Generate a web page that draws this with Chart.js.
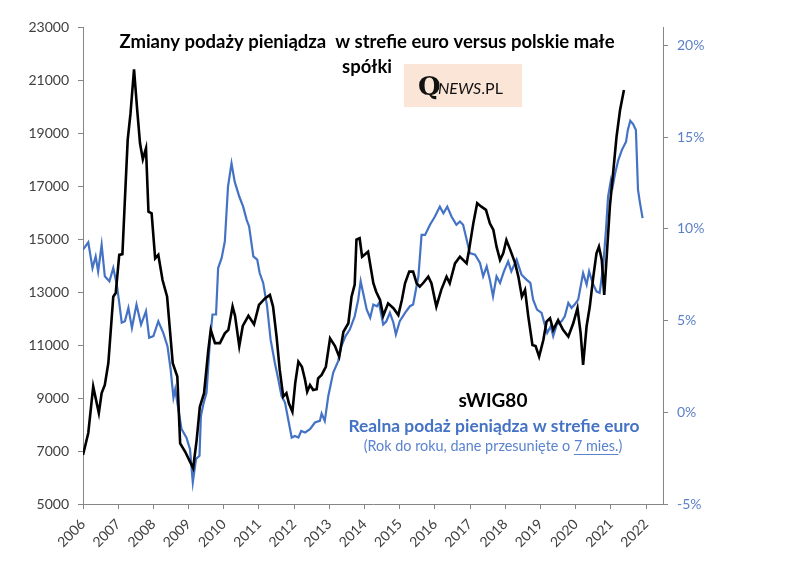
<!DOCTYPE html>
<html>
<head>
<meta charset="utf-8">
<script src="https://cdn.jsdelivr.net/npm/chart.js@4/dist/chart.umd.min.js"></script>
<style>
  html, body { margin: 0; padding: 0; background: #fff; }
</style>
</head>
<body>
<canvas id="myChart" width="800" height="571"></canvas>
<script>
// etykiety osi X (lata)
const yearTicks = [2006, 2007, 2008, 2009, 2010, 2011, 2012, 2013, 2014, 2015, 2016, 2017, 2018, 2019, 2020, 2021, 2022];

// sWIG80 (lewa oś), x = rok dziesiętny
const swigYears = [2006.00, 2006.15, 2006.29, 2006.45, 2006.53, 2006.62, 2006.72, 2006.86, 2006.93, 2007.03,
  2007.12, 2007.19, 2007.27, 2007.35, 2007.45, 2007.54, 2007.62, 2007.70, 2007.79, 2007.86,
  2007.95, 2008.05, 2008.14, 2008.26, 2008.39, 2008.55, 2008.68, 2008.76, 2008.90, 2009.04,
  2009.13, 2009.23, 2009.32, 2009.44, 2009.56, 2009.63, 2009.75, 2009.89, 2010.03, 2010.13,
  2010.25, 2010.32, 2010.44, 2010.54, 2010.70, 2010.86, 2011.00, 2011.17, 2011.31, 2011.40,
  2011.50, 2011.59, 2011.69, 2011.78, 2011.85, 2011.95, 2012.03, 2012.12, 2012.22, 2012.31,
  2012.37, 2012.45, 2012.54, 2012.64, 2012.68, 2012.78, 2012.90, 2013.02, 2013.16, 2013.28,
  2013.40, 2013.54, 2013.63, 2013.72, 2013.77, 2013.86, 2013.93, 2014.10, 2014.25, 2014.33,
  2014.44, 2014.53, 2014.67, 2014.82, 2014.96, 2015.06, 2015.15, 2015.27, 2015.38, 2015.48,
  2015.57, 2015.66, 2015.81, 2015.90, 2016.04, 2016.18, 2016.33, 2016.42, 2016.57, 2016.71,
  2016.80, 2016.90, 2016.97, 2017.09, 2017.20, 2017.32, 2017.45, 2017.56, 2017.66, 2017.75,
  2017.85, 2017.94, 2018.03, 2018.14, 2018.28, 2018.37, 2018.47, 2018.56, 2018.65, 2018.77,
  2018.86, 2018.96, 2019.08, 2019.17, 2019.27, 2019.36, 2019.50, 2019.64, 2019.79, 2019.93,
  2020.05, 2020.14, 2020.21, 2020.31, 2020.40, 2020.50, 2020.59, 2020.66, 2020.74, 2020.81,
  2020.88, 2020.97, 2021.07, 2021.16, 2021.26, 2021.37];
const swigValues = [6850, 7680, 9430, 8430, 9190, 9490, 10320, 12820, 12960, 14400,
  14430, 16470, 18740, 19740, 21400, 19870, 18610, 18010, 18420, 16030,
  15970, 14270, 14400, 13450, 12820, 10310, 9810, 7290, 6980, 6600,
  6350, 7420, 8670, 9180, 10810, 11570, 11070, 11070, 11440, 11570,
  12450, 12100, 10960, 11720, 12100, 11780, 12510, 12760, 12890, 12450,
  11320, 10060, 9050, 9180, 8800, 8480, 9560, 10370, 10180, 9680,
  9240, 9490, 9300, 9330, 9740, 9870, 10180, 11250, 10960, 10560,
  11500, 11820, 12820, 13280, 14980, 15030, 14330, 14520, 13330, 13010,
  12700, 12100, 12570, 12390, 12130, 12700, 13330, 13770, 13770, 13330,
  13200, 13330, 13580, 13330, 12450, 13080, 13580, 13330, 14080, 14330,
  14210, 14080, 14590, 15590, 16350, 16220, 16100, 15590, 15340, 14710,
  14210, 14460, 14960, 14590, 14080, 13580, 12820, 13080, 12100, 11000,
  10960, 10560, 11190, 11880, 12010, 11570, 11940, 11570, 11320, 11820,
  12390, 11440, 10250, 11720, 12450, 13580, 14460, 14710, 14210, 12890,
  14330, 16220, 17600, 18860, 19870, 20620];

// Realna podaż pieniądza w strefie euro, r/r w % (prawa oś), przesunięta o 7 mies.
const moneyYears = [2006.00, 2006.15, 2006.27, 2006.36, 2006.43, 2006.53, 2006.62, 2006.75, 2006.86, 2006.96,
  2007.03, 2007.10, 2007.19, 2007.29, 2007.39, 2007.52, 2007.65, 2007.79, 2007.88, 2008.00,
  2008.14, 2008.28, 2008.40, 2008.49, 2008.57, 2008.62, 2008.71, 2008.80, 2008.94, 2009.04,
  2009.12, 2009.21, 2009.31, 2009.35, 2009.42, 2009.51, 2009.61, 2009.68, 2009.78, 2009.84,
  2009.94, 2010.03, 2010.12, 2010.22, 2010.31, 2010.44, 2010.55, 2010.65, 2010.72, 2010.84,
  2010.95, 2011.02, 2011.12, 2011.23, 2011.33, 2011.45, 2011.55, 2011.64, 2011.74, 2011.83,
  2011.93, 2012.02, 2012.12, 2012.20, 2012.31, 2012.45, 2012.59, 2012.73, 2012.78, 2012.87,
  2012.97, 2013.11, 2013.25, 2013.34, 2013.46, 2013.58, 2013.72, 2013.82, 2013.89, 2013.98,
  2014.06, 2014.16, 2014.25, 2014.35, 2014.41, 2014.53, 2014.62, 2014.72, 2014.82, 2014.89,
  2015.00, 2015.15, 2015.29, 2015.38, 2015.46, 2015.53, 2015.62, 2015.72, 2015.86, 2016.00,
  2016.14, 2016.24, 2016.35, 2016.47, 2016.61, 2016.71, 2016.80, 2016.88, 2016.99, 2017.14,
  2017.28, 2017.37, 2017.47, 2017.56, 2017.65, 2017.75, 2017.85, 2017.96, 2018.08, 2018.17,
  2018.32, 2018.46, 2018.60, 2018.71, 2018.79, 2018.90, 2019.03, 2019.12, 2019.19, 2019.29,
  2019.36, 2019.46, 2019.60, 2019.69, 2019.79, 2019.88, 2019.97, 2020.07, 2020.21, 2020.31,
  2020.38, 2020.48, 2020.59, 2020.68, 2020.78, 2020.86, 2020.92, 2021.00, 2021.05, 2021.12,
  2021.21, 2021.31, 2021.43, 2021.48, 2021.55, 2021.63, 2021.71, 2021.77, 2021.82, 2021.90];
const moneyValues = [8.86, 9.26, 7.86, 8.50, 7.68, 9.13, 7.41, 7.14, 7.86, 6.96,
  5.96, 4.88, 4.96, 5.69, 4.60, 5.87, 4.78, 5.51, 4.06, 4.15,
  4.96, 4.33, 3.60, 2.34, 0.80, 1.25, 0.16, -0.92, -1.38, -2.01,
  -3.82, -2.55, -2.37, -0.20, 0.44, 1.07, 3.97, 5.33, 5.33, 7.86,
  8.41, 9.31, 12.30, 13.57, 12.57, 11.76, 11.21, 10.49, 10.13, 8.50,
  8.32, 7.59, 7.05, 5.78, 3.97, 2.70, 1.79, 0.89, 0.53, -0.38,
  -1.38, -1.29, -1.38, -1.02, -1.10, -0.92, -0.56, -0.47, -0.07, -0.47,
  0.89, 2.16, 2.79, 3.60, 4.15, 4.51, 5.23, 6.14, 7.14, 6.32,
  5.60, 5.15, 5.87, 5.78, 5.96, 4.78, 4.96, 5.42, 4.88, 4.24,
  4.96, 5.42, 5.78, 5.87, 6.69, 7.41, 9.67, 9.67, 10.22, 10.67,
  11.21, 10.85, 11.21, 10.67, 10.22, 10.40, 10.22, 9.58, 8.68, 8.59,
  8.14, 7.41, 7.95, 7.23, 6.32, 7.41, 7.05, 7.68, 8.22, 7.68,
  8.32, 7.50, 7.23, 7.05, 6.14, 5.60, 5.42, 4.78, 4.33, 4.69,
  4.15, 4.78, 4.96, 5.23, 5.96, 5.69, 5.87, 6.14, 7.59, 6.96,
  7.68, 7.05, 6.59, 6.51, 7.95, 9.95, 11.76, 12.66, 12.30, 13.03,
  13.75, 14.29, 14.75, 15.38, 15.89, 15.71, 15.38, 12.12, 11.48, 10.58];

const FONT = 'Lato, "Open Sans", sans-serif';
const BLUE = '#4472c4';
const AXIS = '#868686';

function points(xs, ys) {
  return xs.map((x, i) => ({x: x, y: ys[i]}));
}

const textPlugin = {
  id: 'texts',
  afterDatasetsDraw(chart) {
    const ctx = chart.ctx;
    ctx.save();
    ctx.textAlign = 'center';
    ctx.textBaseline = 'middle';

    // tytuł
    ctx.fillStyle = '#000';
    ctx.font = 'bold 18.5px ' + FONT;
    ctx.fillText('Zmiany podaży pieniądza  w strefie euro versus polskie małe', 367, 42);
    ctx.fillText('spółki', 367, 67);

    // logo
    ctx.fillStyle = '#fbe5d6';
    ctx.fillRect(404, 64, 118, 43);
    ctx.textAlign = 'left';
    ctx.textBaseline = 'alphabetic';
    ctx.fillStyle = '#111';
    ctx.font = 'bold 26px "DejaVu Serif", serif';
    ctx.fillText('Q', 418, 95);
    ctx.font = 'italic 16px ' + FONT;
    ctx.fillText('NEWS', 438, 94);
    const nw = ctx.measureText('NEWS').width;
    ctx.font = '16px ' + FONT;
    ctx.fillText('.PL', 438 + nw, 94);

    // podpisy serii
    ctx.textAlign = 'center';
    ctx.textBaseline = 'middle';
    ctx.fillStyle = '#000';
    ctx.font = 'bold 19px ' + FONT;
    ctx.fillText('sWIG80', 493, 401);
    ctx.fillStyle = BLUE;
    ctx.font = 'bold 17.4px ' + FONT;
    ctx.fillText('Realna podaż pieniądza w strefie euro', 494, 426);

    ctx.fillStyle = '#5b83cf';
    ctx.font = '14.4px ' + FONT;
    const a = '(Rok do roku, dane przesunięte o ';
    const b = '7 mies.';
    const c = ')';
    const wa = ctx.measureText(a).width, wb = ctx.measureText(b).width, wc = ctx.measureText(c).width;
    let x0 = 493 - (wa + wb + wc) / 2;
    ctx.textAlign = 'left';
    ctx.fillText(a, x0, 446);
    ctx.fillText(b, x0 + wa, 446);
    ctx.fillText(c, x0 + wa + wb, 446);
    ctx.strokeStyle = '#5b83cf';
    ctx.lineWidth = 1;
    ctx.beginPath();
    ctx.moveTo(x0 + wa, 454.5);
    ctx.lineTo(x0 + wa + wb, 454.5);
    ctx.stroke();
    ctx.restore();
  }
};

const ctx = document.getElementById('myChart').getContext('2d');
const chart = new Chart(ctx, {
  type: 'line',
  data: {
    datasets: [
      {
        label: 'sWIG80',
        data: points(swigYears, swigValues),
        yAxisID: 'y',
        borderColor: '#000',
        borderWidth: 2.6,
        pointRadius: 0,
        tension: 0,
      },
      {
        label: 'Realna podaż pieniądza w strefie euro',
        data: points(moneyYears, moneyValues),
        yAxisID: 'y1',
        borderColor: BLUE,
        borderWidth: 2.2,
        pointRadius: 0,
        tension: 0,
      },
    ]
  },
  options: {
    responsive: false,
    animation: false,
    layout: { padding: { top: 27, left: 0, right: 0, bottom: 0 } },
    plugins: {
      legend: { display: false },
      title: { display: false },
      tooltip: { enabled: false },
    },
    scales: {
      x: {
        type: 'linear',
        min: 2006,
        max: 2022.48,
        afterBuildTicks: s => { s.ticks = yearTicks.map(v => ({value: v})); },
        afterFit: s => { s.height = 67; },
        ticks: {
          minRotation: 45,
          maxRotation: 45,
          autoSkip: false,
          padding: 7,
          color: '#404040',
          font: { family: FONT, size: 14 },
          callback: v => String(v),
        },
        grid: { drawOnChartArea: false, tickLength: 5, color: AXIS },
        border: { color: AXIS },
      },
      y: {
        position: 'left',
        min: 5000,
        max: 23000,
        afterFit: s => { s.width = 83; },
        ticks: {
          stepSize: 2000,
          padding: 9,
          color: '#404040',
          font: { family: FONT, size: 14 },
          callback: v => String(v),
        },
        grid: { drawOnChartArea: false, tickLength: 5, color: AXIS },
        border: { color: AXIS },
      },
      y1: {
        position: 'right',
        min: -5,
        max: 21,
        afterBuildTicks: s => { s.ticks = s.ticks.filter(t => t.value % 5 === 0); },
        afterFit: s => { s.width = 137; },
        ticks: {
          stepSize: 5,
          padding: 9,
          color: '#5b7fc7',
          font: { family: FONT, size: 14 },
          callback: v => v + '%',
        },
        grid: { drawOnChartArea: false, tickLength: 5, color: AXIS },
        border: { color: AXIS },
      },
    }
  },
  plugins: [textPlugin]
});
</script>
</body>
</html>
